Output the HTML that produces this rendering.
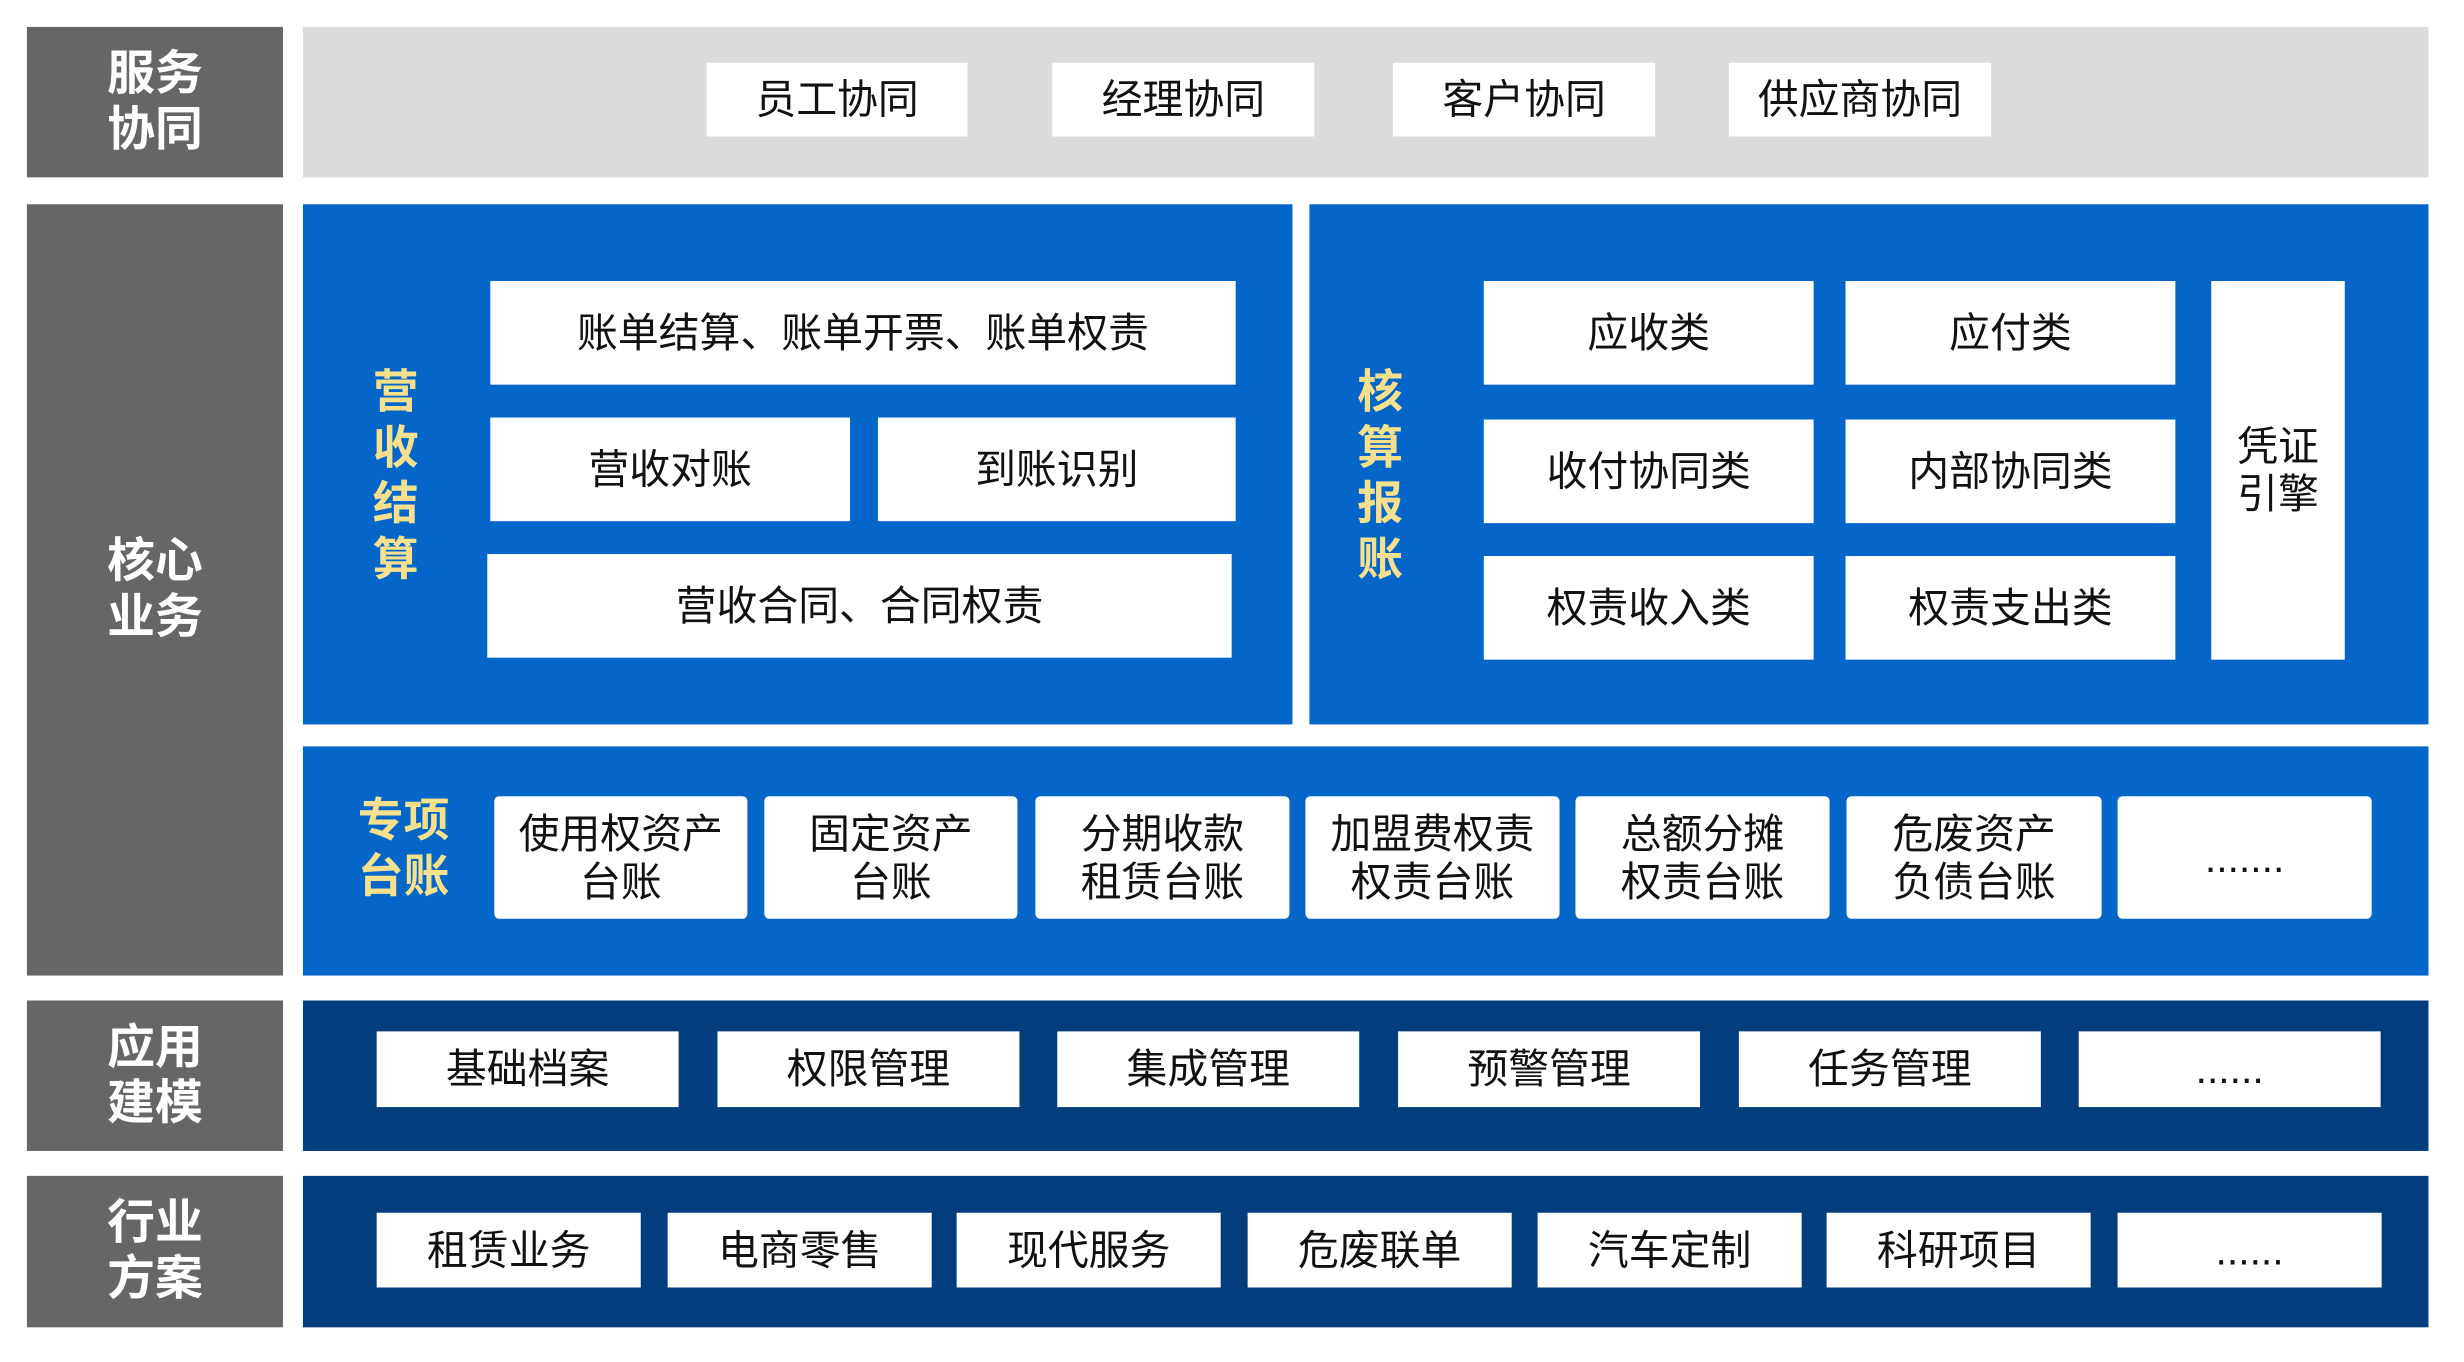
<!DOCTYPE html>
<html><head><meta charset="utf-8"><style>
body{margin:0;width:2464px;height:1362px;background:#fff;position:relative;overflow:hidden;font-family:"Liberation Sans","Noto Sans CJK SC",sans-serif}
#w{position:absolute;left:0;top:0;width:2464px;height:1362px;transform:scale(0.9965);transform-origin:0 0}
#w div{position:absolute;box-sizing:border-box}
.l{background:#666;color:#fff;font-weight:bold;font-size:48px;line-height:56px;display:flex;align-items:center;justify-content:center;text-align:center;left:27px;width:257px}
.b{background:#fff;color:#111;font-size:41px;display:flex;align-items:center;justify-content:center;text-align:center;line-height:48px}
.r{border-radius:5px}
.y{color:#f7e08d;font-weight:bold;font-size:46px;line-height:56px;text-align:center}
</style></head><body><div id="w">
<div class="l" style="top:27px;height:151px">服务<br>协同</div>
<div class="l" style="top:205px;height:774px">核心<br>业务</div>
<div class="l" style="top:1004px;height:151px">应用<br>建模</div>
<div class="l" style="top:1180px;height:152px">行业<br>方案</div>

<div style="left:304px;top:27px;width:2133px;height:151px;background:#dcdcdc"></div>
<div class="b" style="left:709px;top:63px;width:262px;height:74px">员工协同</div>
<div class="b" style="left:1056px;top:63px;width:263px;height:74px">经理协同</div>
<div class="b" style="left:1398px;top:63px;width:263px;height:74px">客户协同</div>
<div class="b" style="left:1735px;top:63px;width:263px;height:74px">供应商协同</div>

<div style="left:304px;top:205px;width:993px;height:522px;background:#0366c8"></div>
<div class="y" style="left:370px;top:365px;width:54px">营<br>收<br>结<br>算</div>
<div class="b" style="left:492px;top:282px;width:748px;height:104px">账单结算、账单开票、账单权责</div>
<div class="b" style="left:492px;top:419px;width:361px;height:104px">营收对账</div>
<div class="b" style="left:881px;top:419px;width:359px;height:104px">到账识别</div>
<div class="b" style="left:489px;top:556px;width:747px;height:104px">营收合同、合同权责</div>

<div style="left:1314px;top:205px;width:1123px;height:522px;background:#0366c8"></div>
<div class="y" style="left:1358px;top:365px;width:54px">核<br>算<br>报<br>账</div>
<div class="b" style="left:1489px;top:282px;width:331px;height:104px">应收类</div>
<div class="b" style="left:1852px;top:282px;width:331px;height:104px">应付类</div>
<div class="b" style="left:1489px;top:421px;width:331px;height:104px">收付协同类</div>
<div class="b" style="left:1852px;top:421px;width:331px;height:104px">内部协同类</div>
<div class="b" style="left:1489px;top:558px;width:331px;height:104px">权责收入类</div>
<div class="b" style="left:1852px;top:558px;width:331px;height:104px">权责支出类</div>
<div class="b" style="left:2219px;top:282px;width:134px;height:380px">凭证<br>引擎</div>

<div style="left:304px;top:749px;width:2133px;height:230px;background:#0366c8"></div>
<div class="y" style="left:350px;top:795px;width:110px">专项<br>台账</div>
<div class="b r" style="left:496px;top:799px;width:254px;height:123px">使用权资产<br>台账</div>
<div class="b r" style="left:767px;top:799px;width:254px;height:123px">固定资产<br>台账</div>
<div class="b r" style="left:1039px;top:799px;width:255px;height:123px">分期收款<br>租赁台账</div>
<div class="b r" style="left:1310px;top:799px;width:255px;height:123px">加盟费权责<br>权责台账</div>
<div class="b r" style="left:1581px;top:799px;width:255px;height:123px">总额分摊<br>权责台账</div>
<div class="b r" style="left:1853px;top:799px;width:256px;height:123px">危废资产<br>负债台账</div>
<div class="b r" style="left:2125px;top:799px;width:255px;height:123px">.......</div>

<div style="left:304px;top:1004px;width:2133px;height:151px;background:#023e7d"></div>
<div class="b" style="left:378px;top:1035px;width:303px;height:76px">基础档案</div>
<div class="b" style="left:720px;top:1035px;width:303px;height:76px">权限管理</div>
<div class="b" style="left:1061px;top:1035px;width:303px;height:76px">集成管理</div>
<div class="b" style="left:1403px;top:1035px;width:303px;height:76px">预警管理</div>
<div class="b" style="left:1745px;top:1035px;width:303px;height:76px">任务管理</div>
<div class="b" style="left:2086px;top:1035px;width:303px;height:76px">......</div>

<div style="left:304px;top:1180px;width:2133px;height:152px;background:#023e7d"></div>
<div class="b" style="left:378px;top:1217px;width:265px;height:75px">租赁业务</div>
<div class="b" style="left:670px;top:1217px;width:265px;height:75px">电商零售</div>
<div class="b" style="left:960px;top:1217px;width:265px;height:75px">现代服务</div>
<div class="b" style="left:1252px;top:1217px;width:265px;height:75px">危废联单</div>
<div class="b" style="left:1543px;top:1217px;width:265px;height:75px">汽车定制</div>
<div class="b" style="left:1833px;top:1217px;width:265px;height:75px">科研项目</div>
<div class="b" style="left:2125px;top:1217px;width:265px;height:75px">......</div>
</div></body></html>
